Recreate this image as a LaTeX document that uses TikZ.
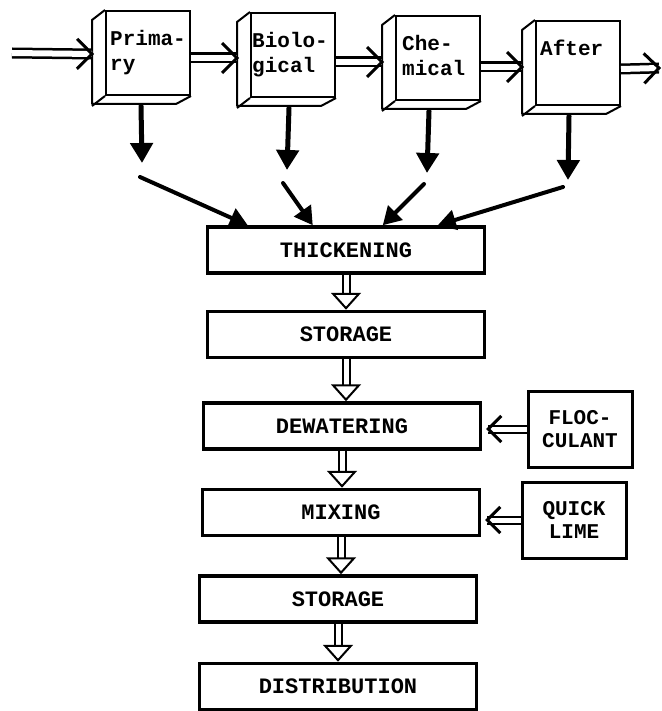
\documentclass[tikz,border=0pt]{standalone}
\usepackage{fontspec}
\setmonofont{Liberation Mono}
\usetikzlibrary{arrows.meta, positioning, calc, decorations.markings}
\tikzset{
  stage/.style    = {rectangle, draw, line width=2pt, fill=white, inner sep=0pt,
                     minimum width=84pt, minimum height=84pt, anchor=north west},
  stagetext/.style= {anchor=north west, align=left, inner sep=0pt,
                     font=\fontsize{21}{25}\selectfont\ttfamily\bfseries},
  face/.style     = {line width=2pt, line join=round},
  unit/.style     = {rectangle, draw, line width=3.5pt, minimum width=277pt,
                     minimum height=46pt, font=\fontsize{22}{24}\selectfont\ttfamily\bfseries},
  addbox/.style   = {rectangle, draw, line width=3pt, minimum width=104pt,
                     minimum height=76pt, align=center, inner sep=0pt,
                     font=\fontsize{21}{23}\selectfont\ttfamily\bfseries},
  chevron/.style 2 args = {postaction={decorate, decoration={markings,
                     mark=at position 1 with {\draw[line width=3pt, line join=miter]
                       (-#1,#2) -- (0pt,0pt) -- (-#1,-#2);}}}},
  flow/.style     = {double, double distance=6pt, line width=2.5pt, chevron={15pt}{15pt}},
  drop/.style     = {line width=5pt, line cap=round, -{Triangle[length=20pt,width=22pt]}},
  feed/.style     = {line width=4pt, line cap=round, -{Triangle[length=18pt,width=20pt]}},
  pass/.style     = {double, double distance=5pt, line width=2pt,
                     -{Triangle[open, length=17pt, width=30pt]}},
  dose/.style     = {double, double distance=5pt, line width=2pt, chevron={13pt}{13pt}},
}

\begin{document}
\begin{tikzpicture}[x=1pt, y=-1pt]
  \useasboundingbox (0,0) rectangle (661,711);

  % ---- treatment stages (top row) ----
  \node[stage] (prim)  at (105,10) {};
  \node[stage] (bio)   at (250,12) {};
  \node[stage] (chem)  at (395,15) {};
  \node[stage] (after) at (535,20) {};

  \foreach \s in {prim,bio,chem,after}{
    \draw[face] (\s.north west) -- ++(-13,10) -- ++(0,84) -- ++(84,0) -- (\s.south east);
    \draw[face] (\s.south west) -- ++(-13,10);
  }

  \node[stagetext] (primtxt)  at ($(prim.north west)+(5,20)$)  {Prima-\\ry};
  \node[stagetext] (biotxt)   at ($(bio.north west)+(2,20)$)   {Biolo-\\gical};
  \node[stagetext] (chemtxt)  at ($(chem.north west)+(7,20)$)  {Che-\\mical};
  \node[stagetext] (aftertxt) at ($(after.north west)+(5,20)$) {After};

  % ---- flow through the stages ----
  \coordinate (feedin)  at (12,53);
  \coordinate (feedout) at (659,68);
  \draw[flow] (feedin) -- ($(prim.west)+(-13,1)$);
  \draw[flow] ($(prim.east)+(0,5)$) -- ($(prim.east -| bio.west)+(-13,5)$);
  \draw[flow] ($(bio.east)+(0,7)$)  -- ($(bio.east -| chem.west)+(-13,7)$);
  \draw[flow] ($(chem.east)+(0,9)$) -- ($(chem.east -| after.west)+(-13,9)$);
  \draw[flow] ($(after.east)+(0,6)$) -- (feedout);

  % ---- column of sludge treatment ----
  \node[unit] (thicken) at (346,250) {THICKENING};
  \node[unit, below=35pt of thicken]             (store)   {STORAGE};
  \node[unit, below=42pt of store, xshift=-4pt]  (dewater) {DEWATERING};
  \node[unit, below=37pt of dewater, xshift=-1pt] (mix)    {MIXING};
  \node[unit, below=37pt of mix, xshift=-3pt]    (hold)    {STORAGE};
  \node[unit, below=38pt of hold]                (dist)    {DISTRIBUTION};

  \node[addbox] (floc)  at (580,429) {FLOC-\\CULANT};
  \node[addbox] (quick) at (574,520) {QUICK\\LIME};

  % ---- sludge drops ----
  \coordinate (d1) at (142,163);
  \coordinate (d2) at (287,170);
  \coordinate (d3) at (427,173);
  \coordinate (d4) at (568,180);
  \coordinate (s1) at (140,177);
  \coordinate (s2) at (283,183);
  \coordinate (s3) at (424,184);
  \coordinate (s4) at (563,187);
  \draw[drop] ($(prim.south)+(-7,10)$)  -- (d1);
  \draw[drop] ($(bio.south)+(-4,10)$)   -- (d2);
  \draw[drop] ($(chem.south)+(-9,10)$)  -- (d3);
  \draw[drop] ($(after.south)+(-9,10)$) -- (d4);
  \draw[feed] (s1) -- ([xshift=42pt]thicken.north west);
  \draw[feed] (s2) -- ([xshift=107pt]thicken.north west);
  \draw[feed] (s3) -- ([xshift=177pt]thicken.north west);
  \draw[feed] (s4) -- ([xshift=232pt]thicken.north west);

  % ---- column arrows ----
  \foreach \a/\b in {thicken/store, store/dewater, dewater/mix, mix/hold, hold/dist}
    \draw[pass] (\a.south) -- (\a.south |- \b.north);

  \draw[dose] (floc.west)  -- ($(floc.west -| dewater.east)+(6,0)$);
  \draw[dose] (quick.west) -- ($(quick.west -| mix.east)+(6,0)$);

\end{tikzpicture}
\end{document}
